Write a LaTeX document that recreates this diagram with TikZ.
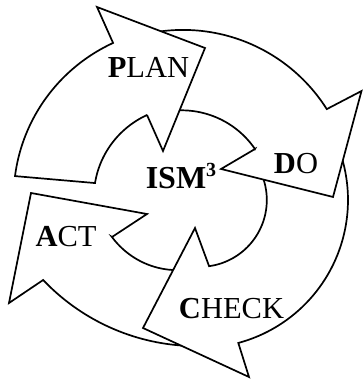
\documentclass[tikz,border=0pt]{standalone}
\usepackage{fontspec}
\setmainfont{Liberation Serif}
\begin{document}
\begin{tikzpicture}[x=1pt,y=-1pt,
  arrowshape/.style={draw=black, fill=white, line width=1.7pt, line join=miter},
  lbl/.style={anchor=base, inner sep=0pt, font=\fontsize{30.5}{30.5}\selectfont}]
\useasboundingbox (0,0) rectangle (362,379);
% ACT arrow
\draw[arrowshape] plot[domain=85:136.5, samples=40, variable=\t]
   ({197+212.1*cos(\t)},{134+212.1*sin(\t)})
  -- (9,303) -- (31,193) -- (147,214) -- (112,237)
  -- plot[domain=145.4:80, samples=40, variable=\t]
   ({180+(82.7+(79.6-82.7)*(\t-145.4)/(80-145.4))*cos(\t)},{190+(82.7+(79.6-82.7)*(\t-145.4)/(80-145.4))*sin(\t)})
  -- cycle;
% CHECK arrow
\draw[arrowshape] plot[domain=-25:75, samples=50, variable=\t]
   ({200+148*cos(\t)},{200+148*sin(\t)})
  -- (249,377) -- (143,328) -- (195,228) -- (209,266)
  -- plot[domain=82.2:-25, samples=50, variable=\t]
   ({200+66.8*cos(\t)},{200+66.8*sin(\t)})
  -- cycle;
% DO arrow
\draw[arrowshape] plot[domain=258:327.7, samples=50, variable=\t]
   ({183+170.1*cos(\t)},{200+170.1*sin(\t)})
  -- (361.5,91) -- (333,197) -- (221,169) -- (255,149)
  -- plot[domain=324.7:258, samples=50, variable=\t]
   ({183+(88.2+(90-88.2)*(\t-324.7)/(258-324.7))*cos(\t)},{200+(88.2+(90-88.2)*(\t-324.7)/(258-324.7))*sin(\t)})
  -- cycle;
% PLAN arrow
\draw[arrowshape] plot[domain=188.1:246, samples=50, variable=\t]
   ({183+(169.7+(171.9-169.7)*(\t-188.1)/(246-188.1))*cos(\t)},{200+(169.7+(171.9-169.7)*(\t-188.1)/(246-188.1))*sin(\t)})
  -- (97,7) -- (205,48) -- (163,151) -- (147,115)
  -- plot[domain=247.1:190.9, samples=50, variable=\t]
   ({183+(92.3+(89.6-92.3)*(\t-247.1)/(190.9-247.1))*cos(\t)},{200+(92.3+(89.6-92.3)*(\t-247.1)/(190.9-247.1))*sin(\t)})
  -- cycle;
% labels
\node[lbl] (plan) at (148.5,78) {\textbf{P}LAN};
\node[lbl] (do) at (296,173) {\textbf{D}O};
\node[lbl] (act) at (66,246) {\textbf{A}CT};
\node[lbl] (check) at (231.5,318) {\textbf{C}HECK};
\node[lbl, font=\fontsize{32}{32}\selectfont] (ism) at (181,188) {\textbf{ISM}\raisebox{12pt}{\fontsize{20}{20}\selectfont\bfseries 3}};
\end{tikzpicture}
\end{document}
